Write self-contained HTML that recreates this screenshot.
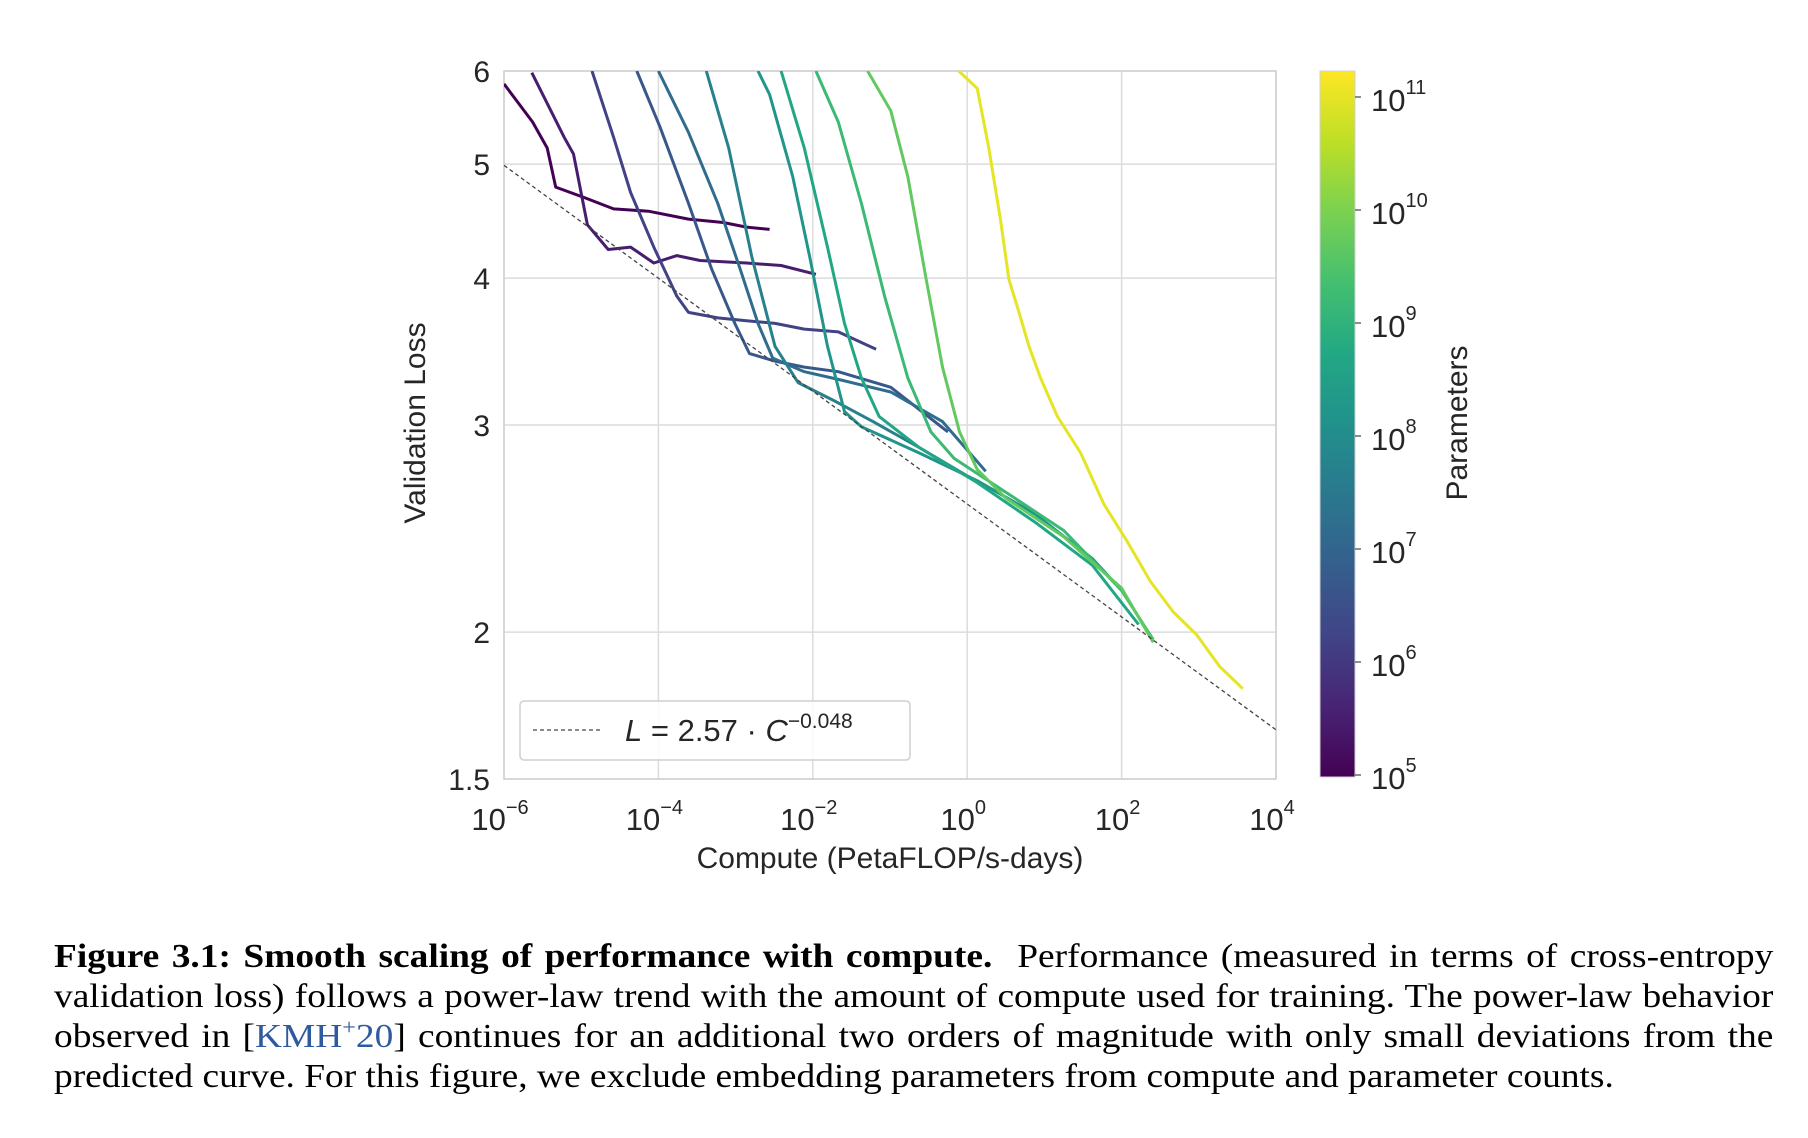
<!DOCTYPE html>
<html><head><meta charset="utf-8">
<style>
html,body{margin:0;padding:0;background:#fff;width:1808px;height:1138px;overflow:hidden}
svg text{font-family:"Liberation Sans",sans-serif;fill:#262626}
.cap{position:absolute;left:54px;width:1563px;transform:scaleX(1.1);transform-origin:0 0;font-family:"Liberation Serif",serif;font-size:34px;color:#000;line-height:40px;white-space:nowrap}
.j{text-align:justify;text-align-last:justify;white-space:normal}
</style></head><body>
<svg id="chart" width="1808" height="900" style="position:absolute;left:0;top:0">
<defs><linearGradient id="vir" x1="0" y1="1" x2="0" y2="0">
<stop offset="0" stop-color="#440154"/><stop offset="0.1" stop-color="#482475"/><stop offset="0.2" stop-color="#414487"/><stop offset="0.3" stop-color="#355f8d"/><stop offset="0.4" stop-color="#2a788e"/><stop offset="0.5" stop-color="#21918c"/><stop offset="0.6" stop-color="#22a884"/><stop offset="0.7" stop-color="#44bf70"/><stop offset="0.8" stop-color="#7ad151"/><stop offset="0.9" stop-color="#bddf26"/><stop offset="1" stop-color="#fde725"/></linearGradient>
<clipPath id="pc"><rect x="504" y="71" width="772" height="708"/></clipPath></defs>
<g id="grid"></g><g id="series" clip-path="url(#pc)"></g><g id="axes"></g>
</svg>
<div class="cap j" style="top:937px"><b>Figure 3.1: Smooth scaling of performance with compute.</b>&nbsp; Performance (measured in terms of cross-entropy</div>
<div class="cap j" style="top:977px">validation loss) follows a power-law trend with the amount of compute used for training. The power-law behavior</div>
<div class="cap j" style="top:1017px">observed in [<span style="color:#2f5aa0">KMH<sup style="font-size:22px;line-height:0">+</sup>20</span>] continues for an additional two orders of magnitude with only small deviations from the</div>
<div class="cap" style="top:1057px">predicted curve. For this figure, we exclude embedding parameters from compute and parameter counts.</div>
<script>
// data: log10 params per run, log10 compute points, loss points
const runParams=[5,5.5,6.2,6.7,7.2,7.7,8.2,8.7,9.2,9.7,11];
const runLogC=[
[-6,-5.63,-5.44,-5.33,-4.95,-4.58,-4.13,-3.61,-3.16,-2.86,-2.56],
[-5.64,-5.22,-5.10,-4.92,-4.65,-4.36,-4.06,-3.76,-3.46,-2.86,-2.41,-1.96],
[-4.86,-4.58,-4.36,-4.06,-3.76,-3.61,-3.23,-2.86,-2.49,-2.11,-1.67,-1.18],
[-4.28,-3.98,-3.61,-3.31,-3.01,-2.82,-2.49,-2.11,-1.67,-0.99,-0.25],
[-4.0,-3.61,-3.23,-2.94,-2.71,-2.52,-2.11,-1.67,-0.99,-0.32,0.24],
[-3.38,-3.09,-2.79,-2.49,-2.19,-1.74,-1.22,-0.62,-0.02],
[-2.71,-2.56,-2.26,-2.04,-1.81,-1.59,-1.37,-0.62,0.13,0.88,1.62,2.0],
[-2.41,-2.11,-1.81,-1.59,-1.37,-1.14,-0.62,0.13,0.88,1.62,2.22],
[-1.96,-1.67,-1.37,-1.07,-0.77,-0.47,-0.17,0.50,1.25,2.0,2.41],
[-1.29,-0.99,-0.77,-0.54,-0.32,-0.10,0.13,0.50,1.25,2.0,2.41],
[-0.11,0.13,0.28,0.43,0.54,0.65,0.80,0.95,1.17,1.47,1.77,2.07,2.37,2.67,2.97,3.27,3.57]];
const runLoss=[
[5.85,5.43,5.16,4.78,4.68,4.58,4.56,4.49,4.46,4.42,4.40],
[5.98,5.27,5.10,4.44,4.23,4.25,4.12,4.18,4.14,4.12,4.10,4.03],
[6.0,5.27,4.73,4.25,3.86,3.74,3.70,3.68,3.66,3.62,3.60,3.48],
[6.0,5.38,4.63,4.07,3.66,3.45,3.40,3.36,3.33,3.23,2.96],
[6.0,5.32,4.63,4.07,3.66,3.42,3.33,3.28,3.20,3.02,2.74],
[6.0,5.16,4.17,3.50,3.26,3.15,3.02,2.87,2.72],
[6.0,5.73,4.88,4.17,3.50,3.08,2.99,2.84,2.69,2.52,2.31,2.17],
[6.0,5.16,4.25,3.66,3.29,3.05,2.87,2.68,2.48,2.28,2.03],
[6.0,5.43,4.63,3.86,3.29,2.96,2.81,2.63,2.44,2.17,1.97],
[6.0,5.55,4.88,4.02,3.36,2.96,2.75,2.60,2.41,2.18,1.96],
[6.0,5.80,5.16,4.49,3.99,3.78,3.50,3.29,3.05,2.84,2.57,2.39,2.21,2.08,1.99,1.87,1.79]];
const yTicks=[1.5,2,3,4,5,6];
const xTickExps=[-6,-4,-2,0,2,4];
const cbExps=[5,6,7,8,9,10,11];
const fitA=2.57, fitB=-0.048;

const NS="http://www.w3.org/2000/svg";
const X0=504,X1=1276,Y0=71,Y1=779;
const xs=l=>X0+(l+6)/10*(X1-X0);
const ys=v=>Y0+(Math.log(6)-Math.log(v))/Math.log(4)*(Y1-Y0);
const cbTop=71,cbBot=777,cb5=775,cb11=97;
const cbY=e=>cb5+(e-5)/6*(cb11-cb5);
function mk(tag,at,parent,txt){const e=document.createElementNS(NS,tag);for(const k in at)e.setAttribute(k,at[k]);if(txt!==undefined)e.textContent=txt;parent.appendChild(e);return e;}
const grid=document.getElementById('grid'),ser=document.getElementById('series'),ax=document.getElementById('axes');
const vir=[[68,1,84],[72,36,117],[65,68,135],[53,95,141],[42,120,142],[33,145,140],[34,168,132],[68,191,112],[122,209,81],[189,223,38],[253,231,37]];
function vcol(t){t=Math.max(0,Math.min(1,t))*10;const i=Math.min(9,Math.floor(t)),f=t-i;const a=vir[i],b=vir[i+1];return 'rgb('+a.map((v,k)=>Math.round(v+(b[k]-v)*f)).join(',')+')';}
xTickExps.forEach(e=>{const g=mk('line',{x1:xs(e),x2:xs(e),y1:Y0,y2:Y1,stroke:'#dcdcdc','stroke-width':1.5},grid);});
yTicks.forEach(v=>{const g=mk('line',{x1:X0,x2:X1,y1:ys(v),y2:ys(v),stroke:'#dcdcdc','stroke-width':1.5},grid);});
const fr=mk('rect',{x:X0,y:Y0,width:X1-X0,height:Y1-Y0,fill:'none',stroke:'#d0d0d0','stroke-width':1.5},grid);

runLogC.forEach((xsArr,i)=>{const pts=xsArr.map((l,j)=>xs(l).toFixed(1)+','+ys(runLoss[i][j]).toFixed(1)).join(' ');
const p=mk('polyline',{points:pts,fill:'none',stroke:vcol((runParams[i]-5)/(11.23-5)),'stroke-width':3,'stroke-linejoin':'round'},ser);
});
const fl=mk('line',{x1:xs(-6),y1:ys(fitA*Math.pow(10,-6*fitB)),x2:xs(4),y2:ys(fitA*Math.pow(10,4*fitB)),stroke:'#444','stroke-width':1.3,'stroke-dasharray':'4,3'},ser);

yTicks.forEach(v=>{const t=mk('text',{x:490,y:ys(v)+11,'text-anchor':'end','font-size':30},ax,String(v));});
xTickExps.forEach(e=>{const t=mk('text',{x:xs(e)-4,y:830,'text-anchor':'middle','font-size':31},ax);
mk('tspan',{},t,'10');mk('tspan',{dy:-16,'font-size':20},t,(e<0?'\u2212':'')+Math.abs(e));});
const xl=mk('text',{x:890,y:868,'text-anchor':'middle','font-size':30},ax,'Compute (PetaFLOP/s-days)');
const yl=mk('text',{x:0,y:0,'text-anchor':'middle','font-size':30,transform:'translate(425,423) rotate(-90)'},ax,'Validation Loss');
const lg=mk('g',{},ax);
mk('rect',{x:520,y:701,width:390,height:59,rx:4,fill:'#fff','fill-opacity':0.85,stroke:'#cfcfcf','stroke-width':1.5},lg);
mk('line',{x1:533,x2:600,y1:730,y2:730,stroke:'#444','stroke-width':1.3,'stroke-dasharray':'4,3'},lg);
const lt=mk('text',{x:625,y:741,'font-size':31},lg);
mk('tspan',{'font-style':'italic'},lt,'L');mk('tspan',{},lt,' = 2.57 \u00b7 ');mk('tspan',{'font-style':'italic'},lt,'C');mk('tspan',{dy:-13,'font-size':21},lt,'\u22120.048');
const cb=mk('rect',{x:1320,y:cbTop,width:35,height:cbBot-cbTop,fill:'url(#vir)',stroke:'#d0d0d0','stroke-width':1},ax);
cbExps.forEach(e=>{mk('line',{x1:1355,x2:1361,y1:cbY(e),y2:cbY(e),stroke:'#444','stroke-width':1.2},ax);
const t=mk('text',{x:1371,y:cbY(e)+14,'font-size':31},ax);
mk('tspan',{},t,'10');mk('tspan',{dy:-17,'font-size':20},t,String(e));});
const pl=mk('text',{x:0,y:0,'text-anchor':'middle','font-size':30,transform:'translate(1467,423) rotate(-90)'},ax,'Parameters');
</script>
</body></html>
